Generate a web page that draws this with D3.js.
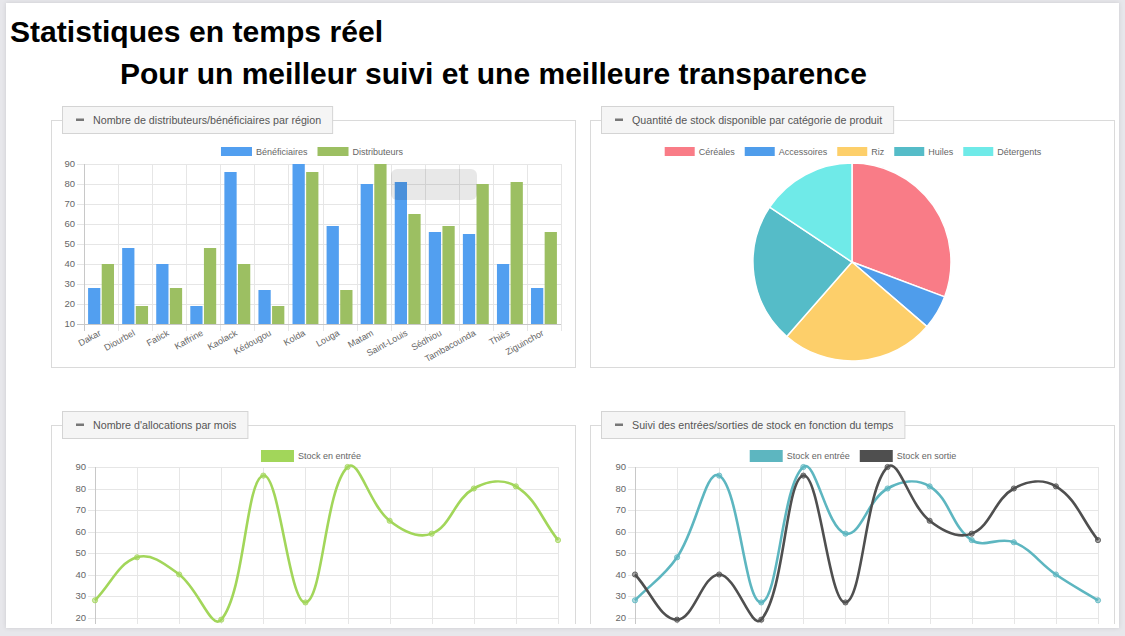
<!DOCTYPE html>
<html lang="fr">
<head>
<meta charset="utf-8">
<script src="https://cdn.jsdelivr.net/npm/d3@7"></script>
<style>
  body { margin: 0; background: #e7e7eb; }
  svg { display: block; font-family: "Liberation Sans", Arial, sans-serif; }
</style>
</head>
<body>
<svg id="page" width="1125" height="636"></svg>
<script>
// ---- data ----
const regions = ["Dakar", "Diourbel", "Fatick", "Kaffrine", "Kaolack", "Kédougou", "Kolda",
                 "Louga", "Matam", "Saint-Louis", "Sédhiou", "Tambacounda", "Thiès", "Ziguinchor"];
const beneficiaires = [28, 48, 40, 19, 86, 27, 90, 59, 80, 81, 56, 55, 40, 28];
const distributeurs = [40, 19, 28, 48, 40, 19, 86, 27, 90, 65, 59, 80, 81, 56];
const yTicks = [10, 20, 30, 40, 50, 60, 70, 80, 90];
const yTicksLine = [20, 30, 40, 50, 60, 70, 80, 90];

const categories = ["Céréales", "Accessoires", "Riz", "Huiles", "Détergents"];
const stockParCategorie = [55, 10, 45, 41, 28];

const mois = ["Jan", "Fév", "Mar", "Avr", "Mai", "Juin", "Juil", "Août", "Sep", "Oct", "Nov", "Déc"];
const allocations = [28, 48, 40, 19, 86, 27, 90, 65, 59, 80, 81, 56];
const stockEntree = [28, 48, 86, 27, 90, 59, 80, 81, 56, 55, 40, 28];
const stockSortie = [40, 19, 40, 19, 86, 27, 90, 65, 59, 80, 81, 56];

// colours
const blue = "#529ff0", barGreen = "#9cbf62", lineGreen = "#a2d65a";
const teal = "#5db6c0", dark = "#4f4f4f";
const pieColors = ["#f97c87", "#4f9deb", "#fdcf6a", "#55bcc8", "#6feae8"];
const gridColor = "#e6e6e6", axisColor = "#c8c8c8", tickText = "#666";

// spline like the one chart.js uses (tension 0.4, distance weighted)
function splineCurve(context) { this._context = context; }
splineCurve.prototype = {
  areaStart() {}, areaEnd() {},
  lineStart() { this._pts = []; },
  point(x, y) { this._pts.push([x, y]); },
  lineEnd() {
    const p = this._pts, n = p.length, t = 0.4, ctx = this._context;
    if (!n) return;
    const cps = p.map((cur, i) => {
      const prev = p[i - 1] || cur, next = p[i + 1] || cur;
      const d01 = Math.hypot(cur[0] - prev[0], cur[1] - prev[1]);
      const d12 = Math.hypot(next[0] - cur[0], next[1] - cur[1]);
      let s01 = d01 / (d01 + d12), s12 = d12 / (d01 + d12);
      if (isNaN(s01)) s01 = 0;
      if (isNaN(s12)) s12 = 0;
      const fa = t * s01, fb = t * s12;
      return {
        prev: [cur[0] - fa * (next[0] - prev[0]), cur[1] - fa * (next[1] - prev[1])],
        next: [cur[0] + fb * (next[0] - prev[0]), cur[1] + fb * (next[1] - prev[1])]
      };
    });
    ctx.moveTo(p[0][0], p[0][1]);
    for (let i = 1; i < n; i++) {
      ctx.bezierCurveTo(cps[i - 1].next[0], cps[i - 1].next[1],
                        cps[i].prev[0], cps[i].prev[1], p[i][0], p[i][1]);
    }
  }
};
const chartJsCurve = ctx => new splineCurve(ctx);

const svg = d3.select("#page");

// page card with soft shadow
const defs = svg.append("defs");
const f = defs.append("filter").attr("id", "shadow").attr("x", "-5%").attr("y", "-5%")
  .attr("width", "110%").attr("height", "110%");
f.append("feDropShadow").attr("dx", 0).attr("dy", 0).attr("stdDeviation", 2)
  .attr("flood-color", "#000").attr("flood-opacity", 0.12);
defs.append("clipPath").attr("id", "cut")
  .append("rect").attr("x", 0).attr("y", 0).attr("width", 1125).attr("height", 624);

svg.append("rect")
  .attr("x", 6).attr("y", 3).attr("width", 1113).attr("height", 625)
  .attr("fill", "#fff").attr("filter", "url(#shadow)");

// headings
svg.append("text")
  .attr("x", 10).attr("y", 42)
  .attr("textLength", 373).attr("lengthAdjust", "spacingAndGlyphs")
  .style("font-size", "30px").style("font-weight", "bold").attr("fill", "#000")
  .text("Statistiques en temps réel");

svg.append("text")
  .attr("x", 120).attr("y", 84)
  .attr("textLength", 747).attr("lengthAdjust", "spacingAndGlyphs")
  .style("font-size", "30px").style("font-weight", "bold").attr("fill", "#000")
  .text("Pour un meilleur suivi et une meilleure transparence");

const content = svg.append("g").attr("clip-path", "url(#cut)");

// box with a tab-like header
function panel(x, y, w, h, title) {
  const g = content.append("g");
  g.append("rect")
    .attr("x", x + 0.5).attr("y", y + 0.5).attr("width", w).attr("height", h)
    .attr("fill", "none").attr("stroke", "#dadada");
  const tab = g.append("g");
  const bg = tab.append("rect");
  const t = tab.append("text")
    .attr("x", x + 42).attr("y", y + 3.5)
    .style("font-size", "10.7px").attr("fill", "#555")
    .text(title);
  const tw = t.node().getComputedTextLength();
  bg.attr("x", x + 11.5).attr("y", y - 13.5).attr("width", tw + 42).attr("height", 27)
    .attr("fill", "#f5f5f5").attr("stroke", "#d4d4d4");
  tab.append("rect")
    .attr("x", x + 25).attr("y", y - 1.5).attr("width", 8).attr("height", 2.5)
    .attr("fill", "#777");
  return g;
}

// centred legend
function legend(g, items, cx, cy, boxW, boxH) {
  const lg = g.append("g");
  const gap = 4, space = 10;
  const nodes = items.map(it => {
    const t = lg.append("text").attr("y", cy).attr("dy", "0.35em")
      .style("font-size", "9px").attr("fill", "#666").text(it.label);
    return { it, t, w: t.node().getComputedTextLength() };
  });
  const total = d3.sum(nodes, n => boxW + gap + n.w) + space * (nodes.length - 1);
  let x = cx - total / 2;
  nodes.forEach(n => {
    lg.append("rect").attr("x", x).attr("y", cy - boxH / 2)
      .attr("width", boxW).attr("height", boxH).attr("fill", n.it.color);
    n.t.attr("x", x + boxW + gap);
    x += boxW + gap + n.w + space;
  });
}

// horizontal grid + y labels
function yGrid(g, y, ticks, x0, x1) {
  g.selectAll(null).data(ticks).enter().append("line")
    .attr("x1", x0 - 7).attr("x2", x1)
    .attr("y1", d => Math.round(y(d)) + 0.5).attr("y2", d => Math.round(y(d)) + 0.5)
    .attr("stroke", gridColor);
  g.selectAll(null).data(ticks).enter().append("text")
    .attr("x", x0 - 9).attr("y", d => y(d)).attr("dy", "0.35em")
    .attr("text-anchor", "end").style("font-size", "9.5px").attr("fill", tickText)
    .text(d => d);
}

// ===== Panel 1 : bar chart =====
const p1 = panel(51, 120, 524, 247, "Nombre de distributeurs/bénéficiaires par région");
legend(p1, [{ label: "Bénéficiaires", color: blue }, { label: "Distributeurs", color: barGreen }],
  312, 151.5, 31, 9);

const x0 = d3.scaleBand().domain(regions).range([84, 561]);
const x1 = d3.scaleBand().domain(["b", "d"]).range([0, x0.bandwidth()])
  .paddingInner(0.1).paddingOuter(0.05);
// chart.js style: category takes 80 % of the band
const inner = d3.scaleLinear().domain([0, x0.bandwidth()]).range([x0.bandwidth() * 0.1, x0.bandwidth() * 0.9]);
const yBar = d3.scaleLinear().domain([10, 90]).range([324, 164]);

yGrid(p1, yBar, yTicks, 84, 561);
p1.selectAll(null).data(regions.concat(["__end"])).enter().append("line")
  .attr("x1", d => Math.round(d === "__end" ? x0.range()[1] : x0(d)) + 0.5)
  .attr("x2", d => Math.round(d === "__end" ? x0.range()[1] : x0(d)) + 0.5)
  .attr("y1", 164).attr("y2", 331)
  .attr("stroke", gridColor);
p1.append("line").attr("x1", 84.5).attr("x2", 84.5).attr("y1", 164).attr("y2", 331).attr("stroke", axisColor);
p1.append("line").attr("x1", 77).attr("x2", 561).attr("y1", 324.5).attr("y2", 324.5).attr("stroke", axisColor);

const barData = regions.map((r, i) => ({ r, b: beneficiaires[i], d: distributeurs[i] }));
const groups = p1.selectAll(".grp").data(barData).enter().append("g")
  .attr("transform", d => `translate(${x0(d.r)},0)`);
groups.append("rect")
  .attr("x", inner(x1("b"))).attr("width", x1.bandwidth() * 0.8)
  .attr("y", d => yBar(d.b)).attr("height", d => yBar(10) - yBar(d.b))
  .attr("fill", blue);
groups.append("rect")
  .attr("x", inner(x1("d"))).attr("width", x1.bandwidth() * 0.8)
  .attr("y", d => yBar(d.d)).attr("height", d => yBar(10) - yBar(d.d))
  .attr("fill", barGreen);

// fading tooltip left over on the chart
p1.append("rect").attr("x", 391).attr("y", 169).attr("width", 86).attr("height", 31).attr("rx", 6)
  .attr("fill", "rgba(0,0,0,0.09)");

p1.selectAll(".xlab").data(regions).enter().append("text")
  .attr("transform", d => `translate(${x0(d) + x0.bandwidth() / 2 - 1},332) rotate(-29)`)
  .attr("text-anchor", "end").attr("dy", "0.35em")
  .style("font-size", "9px").attr("fill", tickText)
  .text(d => d);

// ===== Panel 2 : pie =====
const p2 = panel(590, 120, 524, 247, "Quantité de stock disponible par catégorie de produit");
legend(p2, categories.map((c, i) => ({ label: c, color: pieColors[i] })), 853, 151.5, 30, 9);

const pie = d3.pie().sort(null);
const arc = d3.arc().innerRadius(0).outerRadius(99);
p2.append("g").attr("transform", "translate(852,262)")
  .selectAll("path").data(pie(stockParCategorie)).enter().append("path")
  .attr("d", arc)
  .attr("fill", (d, i) => pieColors[i])
  .attr("stroke", "#fff").attr("stroke-width", 1.5);

// ===== line charts =====
function lineChart(g, left, right, series) {
  const x = d3.scalePoint().domain(mois).range([left, right]);
  const y = d3.scaleLinear().domain([10, 90]).range([639, 467]);
  yGrid(g, y, yTicksLine, left, right);
  g.selectAll(null).data(mois).enter().append("line")
    .attr("x1", d => Math.round(x(d)) + 0.5).attr("x2", d => Math.round(x(d)) + 0.5)
    .attr("y1", 467).attr("y2", 646)
    .attr("stroke", (d, i) => i === 0 ? axisColor : gridColor);
  const line = d3.line()
    .x((d, i) => x(mois[i])).y(d => y(d))
    .curve(chartJsCurve);
  series.forEach(s => {
    g.append("path").datum(s.values)
      .attr("d", line).attr("fill", "none")
      .attr("stroke", s.color).attr("stroke-width", 2.6);
    g.selectAll(null).data(s.values).enter().append("circle")
      .attr("cx", (d, i) => x(mois[i])).attr("cy", d => y(d)).attr("r", 2.6)
      .attr("fill", s.color).attr("fill-opacity", 0.5)
      .attr("stroke", s.color).attr("stroke-opacity", 0.8);
  });
}

const p3 = panel(51, 425, 524, 215, "Nombre d'allocations par mois");
legend(p3, [{ label: "Stock en entrée", color: lineGreen }], 311, 456, 33, 12);
lineChart(p3, 95, 558, [{ values: allocations, color: lineGreen }]);

const p4 = panel(590, 425, 524, 215, "Suivi des entrées/sorties de stock en fonction du temps");
legend(p4, [{ label: "Stock en entrée", color: teal }, { label: "Stock en sortie", color: dark }], 853, 456, 33, 12);
lineChart(p4, 635, 1098, [{ values: stockEntree, color: teal }, { values: stockSortie, color: dark }]);
</script>
</body>
</html>
